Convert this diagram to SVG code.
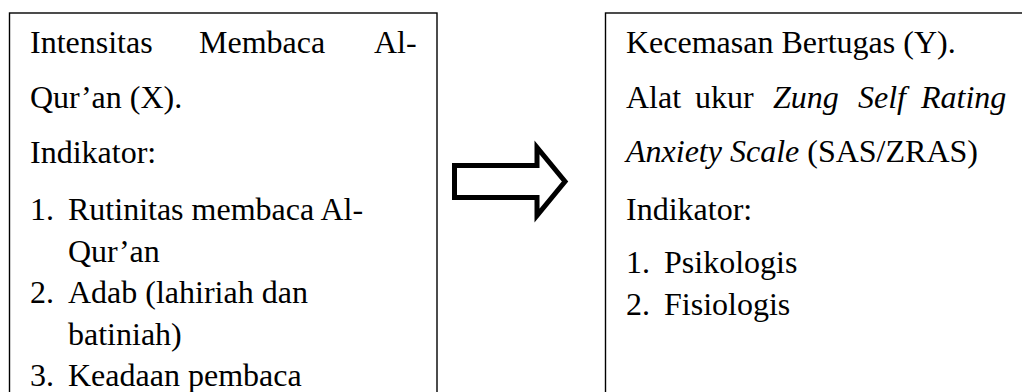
<svg xmlns="http://www.w3.org/2000/svg" width="1022" height="392" viewBox="0 0 1022 392">
  <style>
    .box { fill: #ffffff; stroke: #000000; stroke-width: 1.4; }
    .t { font-family: "Liberation Serif", "Times New Roman", serif; font-size: 32px; fill: #000000; }
    .i { font-style: italic; }
    .arrow { fill: #ffffff; stroke: #000000; stroke-width: 5; stroke-linejoin: miter; }
  </style>
  <rect width="1022" height="392" fill="#ffffff"/>

  <!-- Variable X -->
  <g id="node-x">
    <rect class="box" x="9.5" y="13" width="427.5" height="400"/>
    <text class="t" y="53"><tspan x="30">Intensitas</tspan><tspan x="199">Membaca</tspan><tspan x="374">Al-</tspan></text>
    <text class="t" x="30" y="108">Qur’an (X).</text>
    <text class="t" x="30" y="163">Indikator:</text>
    <text class="t" x="30" y="220">1.</text>
    <text class="t" x="68" y="220">Rutinitas membaca Al-</text>
    <text class="t" x="68" y="262">Qur’an</text>
    <text class="t" x="30" y="303">2.</text>
    <text class="t" x="68" y="303">Adab (lahiriah dan</text>
    <text class="t" x="68" y="345">batiniah)</text>
    <text class="t" x="30" y="386">3.</text>
    <text class="t" x="68" y="386">Keadaan pembaca</text>
  </g>

  <!-- Variable Y -->
  <g id="node-y">
    <rect class="box" x="605.5" y="13" width="430" height="400"/>
    <text class="t" x="626" y="53">Kecemasan Bertugas (Y).</text>
    <text class="t" y="108"><tspan x="626">Alat</tspan><tspan x="695">ukur</tspan><tspan class="i" x="773">Zung</tspan><tspan class="i" x="858">Self</tspan><tspan class="i" x="921">Rating</tspan></text>
    <text class="t" x="626" y="162"><tspan class="i">Anxiety Scale</tspan> (SAS/ZRAS)</text>
    <text class="t" x="626" y="220">Indikator:</text>
    <text class="t" x="626" y="273">1.</text>
    <text class="t" x="664" y="273">Psikologis</text>
    <text class="t" x="626" y="315">2.</text>
    <text class="t" x="664" y="315">Fisiologis</text>
  </g>

  <!-- Connector: block arrow from X to Y -->
  <g id="connectors">
    <path class="arrow" d="M454.5,165.5 L537,165.5 L537,147.5 L565,181.5 L537,215.5 L537,197.5 L454.5,197.5 Z"/>
  </g>
</svg>
